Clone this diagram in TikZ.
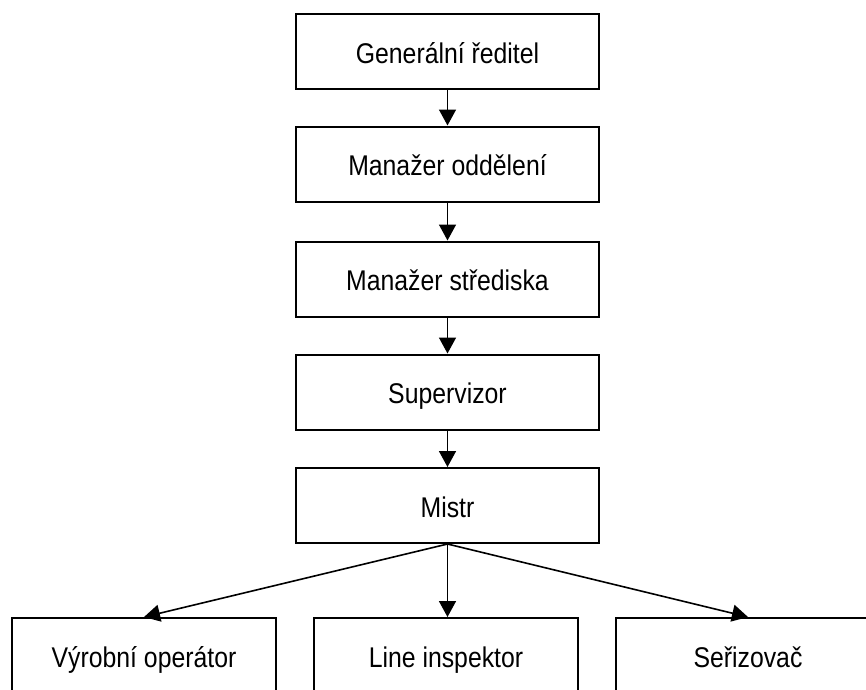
\documentclass[tikz,border=0pt]{standalone}
\usepackage{fontspec}
\setmainfont[FakeStretch=0.87]{Liberation Sans}
\usetikzlibrary{arrows.meta}

\begin{document}
\begin{tikzpicture}[x=1pt,y=-1pt,
  box/.style={draw=black, line width=2pt, fill=white, minimum width=303pt,
    minimum height=75pt, inner sep=0pt, text height=23pt, text depth=0pt,
    font=\fontsize{28.5}{30}\selectfont},
  lowbox/.style={box, minimum width=264pt, minimum height=76pt},
  link/.style={line width=1.6pt, -{Triangle[width=17pt,length=16pt]}}
]
\useasboundingbox (0,0) rectangle (866,689);
\clip (0,0) rectangle (866,689);

% chain of command
\node[box] (gr) at (447.5,51.5)  {Generální ředitel};
\node[box] (mo) at (447.5,164)   {Manažer oddělení};
\node[box] (ms) at (447.5,279)   {Manažer střediska};
\node[box] (sv) at (447.5,392)   {Supervizor};
\node[box] (mi) at (447.5,505.5) {Mistr};

% staff under the foreman
\node[lowbox] (vo) at (144,656) {Výrobní operátor};
\node[lowbox] (li) at (446,656) {Line inspektor};
\node[lowbox] (se) at (748,656) {Seřizovač};

\draw[link] (gr) -- (mo);
\draw[link] (mo) -- (ms);
\draw[link] (ms) -- (sv);
\draw[link] (sv) -- (mi);
\draw[link] (mi.south) -- (vo.north);
\draw[link] (mi.south) -- (mi.south |- li.north);
\draw[link] (mi.south) -- (se.north);
\end{tikzpicture}
\end{document}
